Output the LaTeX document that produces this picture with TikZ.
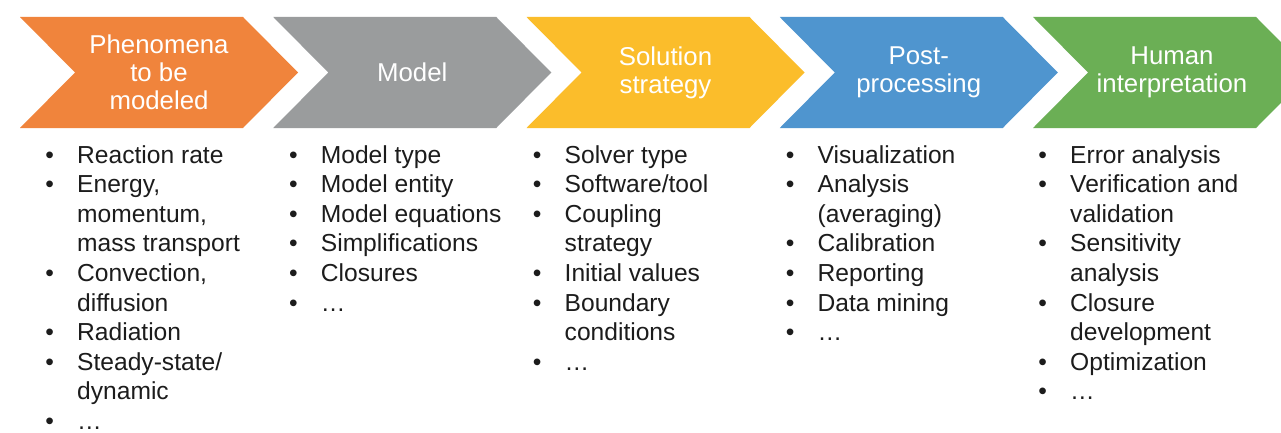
\documentclass[tikz,border=0pt]{standalone}
\usepackage{fontspec}
\setmainfont{Liberation Sans}
\usepackage{array}

\definecolor{cOrange}{HTML}{F0843C}
\definecolor{cGray}{HTML}{9A9C9D}
\definecolor{cYellow}{HTML}{FBBD2B}
\definecolor{cBlue}{HTML}{4F95CF}
\definecolor{cGreen}{HTML}{6BAF55}
\definecolor{cText}{HTML}{1C1C1C}

% bullet item and continuation line inside a column list
\newcommand\bitem[1]{\makebox[27.5pt][l]{\hspace{-4.3pt}\textbullet}#1\\}
\newcommand\bcont[1]{\hspace{27.5pt}#1\\}
\newenvironment{blist}{\renewcommand\arraystretch{1}\begin{tabular}[t]{@{}l@{}}}{\end{tabular}}

\tikzset{
  stagetitle/.style={text=white, align=center, inner sep=0pt,
    font=\fontsize{25.8}{27.8}\selectfont},
  stagelist/.style={text=cText, inner sep=0pt, anchor=base west,
    font=\fontsize{24.6}{29.6}\selectfont},
}

% chevron with its top-left corner at x = #1
\newcommand\chevron[2]{%
  \fill[#2] (#1,17) -- ++(223,0) -- ++(55,55.5) -- ++(-55,55.5)
    -- ++(-223,0) -- ++(55,-55.5) -- cycle;}

\begin{document}
\begin{tikzpicture}[x=1pt,y=-1pt]
\useasboundingbox (0,0) rectangle (1281,433);
\clip (0,0) rectangle (1281,433);
\fill[white] (0,0) rectangle (1281,433);

% the five process stages
\chevron{20}{cOrange}
\chevron{273.25}{cGray}
\chevron{526.5}{cYellow}
\chevron{779.75}{cBlue}
\chevron{1033}{cGreen}

\node[stagetitle] (t1) at (159,72.5) {Phenomena\\to be\\modeled};
\node[stagetitle] (t2) at (412.25,72.5) {Model};
\node[stagetitle] (t3) at (665.5,72.5) {Solution\\strategy};
\node[stagetitle] (t4) at (918.75,72.5) {Post-\\processing};
\node[stagetitle] (t5) at (1172,72.5) {Human\\interpretation};

% bullet lists under each stage (node x = text start - 27.5)
\node[stagelist] (l1) at (49.5,163) {\begin{blist}
\bitem{Reaction rate}
\bitem{Energy,}
\bcont{momentum,}
\bcont{mass transport}
\bitem{Convection,}
\bcont{diffusion}
\bitem{Radiation}
\bitem{Steady-state/}
\bcont{dynamic}
\bitem{\dots}
\end{blist}};

\node[stagelist] (l2) at (293.2,163) {\begin{blist}
\bitem{Model type}
\bitem{Model entity}
\bitem{Model equations}
\bitem{Simplifications}
\bitem{Closures}
\bitem{\dots}
\end{blist}};

\node[stagelist] (l3) at (537,163) {\begin{blist}
\bitem{Solver type}
\bitem{Software/tool}
\bitem{Coupling}
\bcont{strategy}
\bitem{Initial values}
\bitem{Boundary}
\bcont{conditions}
\bitem{\dots}
\end{blist}};

\node[stagelist] (l4) at (790,163) {\begin{blist}
\bitem{Visualization}
\bitem{Analysis}
\bcont{(averaging)}
\bitem{Calibration}
\bitem{Reporting}
\bitem{Data mining}
\bitem{\dots}
\end{blist}};

\node[stagelist] (l5) at (1042.5,163) {\begin{blist}
\bitem{Error analysis}
\bitem{Verification and}
\bcont{validation}
\bitem{Sensitivity}
\bcont{analysis}
\bitem{Closure}
\bcont{development}
\bitem{Optimization}
\bitem{\dots}
\end{blist}};
\end{tikzpicture}
\end{document}
